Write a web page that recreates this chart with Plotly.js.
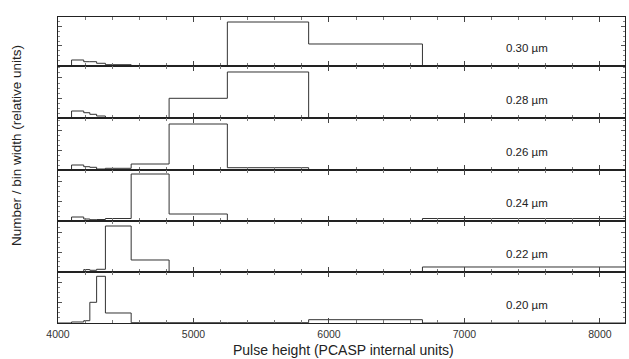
<!DOCTYPE html>
<html><head><meta charset="utf-8">
<script src="https://cdn.plot.ly/plotly-3.0.1.min.js"></script>
<style>body{margin:0;background:#fff}#chart{width:629px;height:359px}</style>
</head><body><div id="chart"></div>
<script>
// Bin edges (PCASP internal units)
var binEdges = [4100, 4190, 4235, 4285, 4350, 4540, 4820, 5250, 5850, 6690, 8185];
// Panel labels (top to bottom)
var sizeLabels = ["0.30 µm", "0.28 µm", "0.26 µm", "0.24 µm", "0.22 µm", "0.20 µm"];
// Number / bin width (relative units), one value per bin
var counts030 = [6, 4.3, 4.3, 2.7, 1.3, 0.5, 0.5, 44, 22, 0.3];
var counts028 = [7, 5.3, 3.7, 2, 0.3, 0.5, 19.7, 46, 0.5, 0];
var counts026 = [5, 3.3, 2.7, 1, 1.7, 6, 46, 2.3, 0.3, 0];
var counts024 = [4, 2, 1.3, 1.5, 2.5, 47, 7, 0.5, 0.3, 2.5];
var counts022 = [0.3, 2.4, 1.7, 2.7, 46, 12, 0, 0, 0, 5];
var counts020 = [1, 2.3, 20.7, 46.7, 10, 0.3, 0.3, 0.3, 3.3, 0];

var allCounts = [counts030, counts028, counts026, counts024, counts022, counts020];
// panel boundaries in paper fraction (top to bottom)
var bounds = [1, 0.8399, 0.6699, 0.5, 0.3333, 0.1667, 0];
var yMax = [49, 52, 52, 51, 51, 51];

var traces = [];
var layout = {
  width: 629, height: 359,
  margin: {l: 58, r: 4, t: 17, b: 36},
  paper_bgcolor: '#fff', plot_bgcolor: '#fff',
  showlegend: false,
  font: {family: 'Arial, Liberation Sans, sans-serif', color: '#333', size: 10},
  annotations: [],
  shapes: []
};

for (var i = 0; i < 6; i++) {
  var c = allCounts[i];
  var xs = [4000].concat(binEdges);
  var ys = [0].concat(c).concat([c[c.length - 1]]);
  var sfx = i === 0 ? '' : String(i + 1);
  traces.push({
    x: xs, y: ys, type: 'scatter', mode: 'lines',
    line: {shape: 'hv', color: '#333', width: 1},
    xaxis: 'x' + sfx, yaxis: 'y' + sfx, hoverinfo: 'skip'
  });
  var isBottom = (i === 5);
  layout['xaxis' + sfx] = {
    domain: [0, 1], range: [4000, 8185], anchor: 'y' + sfx,
    showgrid: false, zeroline: false,
    showline: true, linecolor: '#222', linewidth: 1, mirror: 'ticks',
    ticks: 'inside', ticklen: 5, tickcolor: '#444', tickwidth: 1,
    dtick: 1000, tick0: 4000,
    minor: {ticks: 'inside', ticklen: 3, dtick: 200, tickcolor: '#777', showgrid: false},
    showticklabels: isBottom,
    ticklabelstandoff: 1,
    tickfont: {size: 10.5, color: '#333'},
    title: {text: ''}
  };
  if (!isBottom) layout['xaxis' + sfx].matches = 'x6';
  layout['yaxis' + sfx] = {
    domain: [bounds[i + 1], bounds[i]], range: [0, yMax[i]], anchor: 'x' + sfx,
    showgrid: false, zeroline: false,
    showline: true, linecolor: '#222', linewidth: 1, mirror: 'ticks',
    ticks: 'inside', ticklen: 4, tickcolor: '#555', dtick: 20, tick0: 0,
    minor: {ticks: 'inside', ticklen: 2, dtick: 5, tickcolor: '#888', showgrid: false},
    showticklabels: false
  };
  layout.annotations.push({
    text: sizeLabels[i], xref: 'paper', yref: 'paper',
    x: 0.827, y: bounds[i + 1] + 18 / 306, xanchor: 'center', yanchor: 'middle',
    showarrow: false, font: {size: 11.5, color: '#222'}
  });
}
layout.annotations.push({
  text: 'Pulse height (PCASP internal units)', xref: 'paper', yref: 'paper',
  x: (343 - 58) / 567, y: -36 / 306, xanchor: 'center', yanchor: 'bottom',
  showarrow: false, borderpad: 0, font: {size: 14, color: '#222'}
});
layout.annotations.push({
  text: 'Number / bin width (relative units)', xref: 'paper', yref: 'paper',
  x: -41 / 567, y: (323 - 146) / 306, textangle: -90, xanchor: 'center', yanchor: 'middle',
  showarrow: false, font: {size: 13.5, color: '#222'}
});

Plotly.newPlot('chart', traces, layout, {staticPlot: true, displayModeBar: false});
</script>
</body></html>
